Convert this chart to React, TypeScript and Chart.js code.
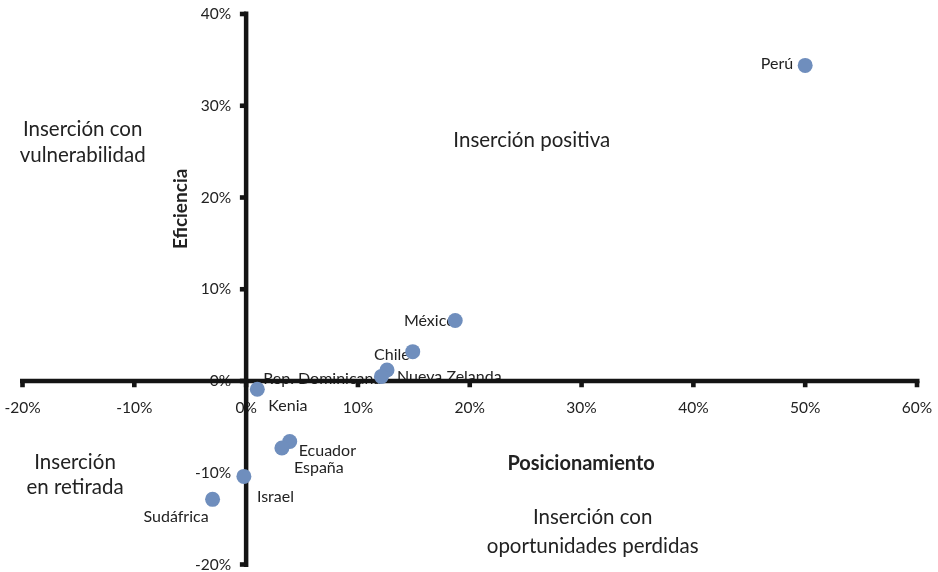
import React, { useEffect, useRef } from 'react';
import { Chart, registerables } from 'chart.js';

Chart.register(...registerables);

// ---- Data ----
const countries = ['Perú', 'México', 'Chile', 'Nueva Zelanda', 'Rep. Dominicana', 'Kenia', 'Ecuador', 'España', 'Israel', 'Sudáfrica'];
const posicionamiento = [0.5, 0.187, 0.149, 0.126, 0.121, 0.01, 0.039, 0.032, -0.002, -0.03];
const eficiencia = [0.344, 0.066, 0.032, 0.012, 0.005, -0.009, -0.066, -0.073, -0.104, -0.129];

const xTickValues = [-0.2, -0.1, 0, 0.1, 0.2, 0.3, 0.4, 0.5, 0.6];
const xTickLabels = ['-20%', '-10%', '0%', '10%', '20%', '30%', '40%', '50%', '60%'];
const yTickValues = [-0.2, -0.1, 0, 0.1, 0.2, 0.3, 0.4];
const yTickLabels = ['-20%', '-10%', '0%', '10%', '20%', '30%', '40%'];

const xTitle = 'Posicionamiento';
const yTitle = 'Eficiencia';
const quadrantTexts = [
  { lines: ['Inserción con', 'vulnerabilidad'], x: -0.1462, y: [0.2737, 0.2464] },
  { lines: ['Inserción positiva'], x: 0.2555, y: [0.2627] },
  { lines: ['Inserción', 'en retirada'], x: -0.153, y: [-0.089, -0.1162] },
  { lines: ['Inserción con', 'oportunidades perdidas'], x: 0.3099, y: [-0.1489, -0.1801] },
];
const xTitlePos = { x: 0.2996, y: -0.0904 };
const yTitlePos = { x: -0.0584, y: 0.1876 };

// label placement relative to marker: [dx, dy, align]
const labelPlacement: [number, number, CanvasTextAlign][] = [
  [-12, -2, 'right'],
  [0, 0, 'right'],
  [-3, 3, 'right'],
  [10, 7, 'left'],
  [0, 2, 'right'],
  [11, 17, 'left'],
  [9, 9, 'left'],
  [12, 20, 'left'],
  [13, 20, 'left'],
  [-4, 17, 'right'],
];

const FONT = 'Lato, "DejaVu Sans", sans-serif';
const TEXT_COLOR = '#222222';
const AXIS_COLOR = '#141414';
const MARKER_COLOR = 'rgb(111,142,189)';

const axesPlugin = {
  id: 'quadrantAxes',
  beforeDatasetsDraw(chart: any) {
    const { ctx, scales } = chart;
    const xs = scales.x;
    const ys = scales.y;
    const x0 = xs.getPixelForValue(0);
    const y0 = ys.getPixelForValue(0);
    ctx.save();
    ctx.fillStyle = TEXT_COLOR;
    ctx.textBaseline = 'middle';

    // quadrant texts
    ctx.font = `20.5px ${FONT}`;
    ctx.textAlign = 'center';
    quadrantTexts.forEach((q) => {
      q.lines.forEach((line, i) => {
        ctx.fillText(line, xs.getPixelForValue(q.x), ys.getPixelForValue(q.y[i]));
      });
    });

    // axis titles
    ctx.font = `bold 20px ${FONT}`;
    ctx.fillText(xTitle, xs.getPixelForValue(xTitlePos.x), ys.getPixelForValue(xTitlePos.y));
    ctx.save();
    ctx.translate(xs.getPixelForValue(yTitlePos.x), ys.getPixelForValue(yTitlePos.y));
    ctx.rotate(-Math.PI / 2);
    ctx.font = `bold 19px ${FONT}`;
    ctx.fillText(yTitle, 0, 0);
    ctx.restore();

    // tick labels
    ctx.font = `15.5px ${FONT}`;
    ctx.textAlign = 'center';
    xTickValues.forEach((v, i) => {
      ctx.fillText(xTickLabels[i], xs.getPixelForValue(v), y0 + 27);
    });
    ctx.textAlign = 'right';
    yTickValues.forEach((v, i) => {
      ctx.fillText(yTickLabels[i], x0 - 15, ys.getPixelForValue(v));
    });

    // point labels
    ctx.font = `16px ${FONT}`;
    countries.forEach((name, i) => {
      const [dx, dy, align] = labelPlacement[i];
      ctx.textAlign = align;
      ctx.fillText(name, xs.getPixelForValue(posicionamiento[i]) + dx, ys.getPixelForValue(eficiencia[i]) + dy);
    });

    // axis lines
    const lw = 4.5;
    ctx.fillStyle = AXIS_COLOR;
    const xl = xs.getPixelForValue(xTickValues[0]);
    const xr = xs.getPixelForValue(xTickValues[xTickValues.length - 1]);
    const yt = ys.getPixelForValue(yTickValues[yTickValues.length - 1]);
    const yb = ys.getPixelForValue(yTickValues[0]);
    ctx.fillRect(xl - 2.5, y0 - lw / 2, xr - xl + 5, lw);
    ctx.fillRect(x0 - lw / 2, yt - 2.5, lw, yb - yt + 5);
    // tick marks
    xTickValues.forEach((v) => {
      const px = xs.getPixelForValue(v);
      ctx.fillRect(px - 2.3, y0, 4.6, lw / 2 + 4);
    });
    yTickValues.forEach((v) => {
      const py = ys.getPixelForValue(v);
      ctx.fillRect(x0 - lw / 2 - 4, py - 2.3, lw / 2 + 4, 4.6);
    });
    ctx.restore();
  },
};

export default function App() {
  const canvasRef = useRef<HTMLCanvasElement | null>(null);

  useEffect(() => {
    if (!canvasRef.current) return;
    const chart = new Chart(canvasRef.current, {
      type: 'scatter',
      data: {
        datasets: [
          {
            label: 'Países',
            data: countries.map((_, i) => ({ x: posicionamiento[i], y: eficiencia[i] })),
            backgroundColor: MARKER_COLOR,
            borderColor: MARKER_COLOR,
            borderWidth: 0,
            pointRadius: 7.5,
            pointHoverRadius: 7.5,
            clip: false as any,
          },
        ],
      },
      options: {
        responsive: false,
        animation: false,
        layout: { padding: { left: 22.5, right: 21, top: 14, bottom: 7 } },
        plugins: { legend: { display: false }, tooltip: { enabled: false } },
        events: [],
        scales: {
          x: { type: 'linear', min: -0.2, max: 0.6, display: false },
          y: { type: 'linear', min: -0.2, max: 0.4, display: false },
        },
      },
      plugins: [axesPlugin],
    });
    return () => chart.destroy();
  }, []);

  return (
    <div style={{ position: 'absolute', left: 0, top: 0, width: 938, height: 572, background: '#fff' }}>
      <canvas ref={canvasRef} width={938} height={572} style={{ display: 'block', width: 938, height: 572 }} />
    </div>
  );
}
